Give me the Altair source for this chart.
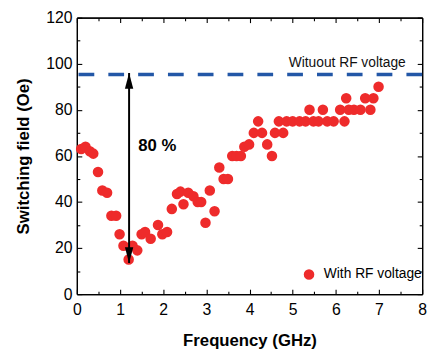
import altair as alt
import pandas as pd

# ---- data ----
freq = [0.1, 0.2, 0.3, 0.38, 0.49, 0.59, 0.7, 0.8, 0.91, 0.99,
        1.08, 1.2, 1.29, 1.4, 1.5, 1.58, 1.71, 1.88, 1.98, 2.09,
        2.2, 2.32, 2.4, 2.47, 2.58, 2.7, 2.8, 2.88, 2.98, 3.08,
        3.19, 3.3, 3.4, 3.5, 3.6, 3.7, 3.8, 3.88, 3.99, 4.1,
        4.2, 4.29, 4.41, 4.52, 4.59, 4.68, 4.78, 4.86, 5.0, 5.16,
        5.3, 5.39, 5.48, 5.6, 5.7, 5.8, 5.95, 6.1, 6.2, 6.24,
        6.3, 6.42, 6.57, 6.68, 6.8, 6.87, 6.99]
field = [63, 64, 62, 61, 53, 45, 44, 34, 34, 26,
         21, 15, 21, 19, 26, 27, 24, 30, 26, 27,
         37, 43.5, 44.5, 39, 44, 42.5, 40, 40, 31, 45,
         36, 55, 50, 50, 60, 60, 60, 64, 65, 70,
         75, 70, 65, 60, 70, 75, 70, 75, 75, 75,
         75, 80, 75, 75, 80, 75, 75, 80, 75, 85,
         80, 80, 80, 85, 80, 85, 90]
series_name = "With RF voltage"

x_major = [0, 1, 2, 3, 4, 5, 6, 7, 8]
x_minor = [0.5, 1.5, 2.5, 3.5, 4.5, 5.5, 6.5, 7.5]
y_major = [0, 20, 40, 60, 80, 100, 120]
y_minor = [10, 30, 50, 70, 90, 110]

ref_level = [95.3]
ref_label = ["Wituout RF voltage"]
ref_label_x = [7.62]
ref_label_y = [100.5]

arrow_x = [1.21]
arrow_low = [13.5]
arrow_high = [96.0]
arrow_label = ["80 %"]
arrow_label_x = [1.42]
arrow_label_y = [64.3]

# ---- tables ----
df = pd.DataFrame({"freq": freq, "field": field, "series": [series_name] * len(freq)})
ref_df = pd.DataFrame({"level": ref_level})
ref_txt = pd.DataFrame({"x": ref_label_x, "y": ref_label_y, "t": ref_label})
arr_df = pd.DataFrame({"x": arrow_x, "lo": arrow_low, "hi": arrow_high})
arr_txt = pd.DataFrame({"x": arrow_label_x, "y": arrow_label_y, "t": arrow_label})

FONT = "Liberation Sans"
xs = alt.Scale(domain=[0, 8], nice=False, zero=False)
ys = alt.Scale(domain=[0, 120], nice=False, zero=False)

MAJ = alt.ExprRef(expr="-5")
MIN = alt.ExprRef(expr="-3")


def ax(values, orient, size, labels=False, title=None, pad=0, tpad=0):
    kw = dict(values=values, orient=orient, tickSize=size, labels=labels,
              grid=False, domain=True, domainColor="black", domainWidth=1.2,
              tickColor="black", tickWidth=1.1)
    if labels:
        kw.update(labelFontSize=16, labelFont=FONT, labelColor="black",
                  labelPadding=pad, labelFlush=False)
    if title:
        kw.update(title=title, titleFontSize=17, titleFont=FONT,
                  titleFontWeight="bold", titleColor="black", titlePadding=tpad)
    else:
        kw.update(title=None)
    return alt.Axis(**kw)


points = alt.Chart(df).mark_circle(size=115, opacity=1).encode(
    x=alt.X("freq:Q", scale=xs,
            axis=ax(x_major, "bottom", MAJ, labels=True, title="Frequency (GHz)", pad=13, tpad=15)),
    y=alt.Y("field:Q", scale=ys,
            axis=ax(y_major, "left", MAJ, labels=True, title="Switching field (Oe)", pad=10, tpad=13)),
    color=alt.Color("series:N",
                    scale=alt.Scale(domain=[series_name], range=["#ee2b2b"]),
                    legend=alt.Legend(title=None, orient="none", legendX=229, legendY=254,
                                      labelFontSize=14, labelFont=FONT, labelColor="black",
                                      symbolSize=115, symbolType="circle", symbolStrokeWidth=0,
                                      labelOffset=8, padding=0)),
)


def axis_layer(xv, xo, xsz, yv, yo, ysz):
    return alt.Chart(df).mark_point(opacity=0).encode(
        x=alt.X("freq:Q", scale=xs, axis=ax(xv, xo, xsz)),
        y=alt.Y("field:Q", scale=ys, axis=ax(yv, yo, ysz)),
    )


minor_bl = axis_layer(x_minor, "bottom", MIN, y_minor, "left", MIN)
major_tr = axis_layer(x_major, "top", MAJ, y_major, "right", MAJ)
minor_tr = axis_layer(x_minor, "top", MIN, y_minor, "right", MIN)

ref_line = alt.Chart(ref_df).mark_rule(strokeDash=[16, 14.3], strokeWidth=3.6, color="#2357a7").encode(
    y=alt.Y("level:Q", scale=ys, axis=None))

ref_text = alt.Chart(ref_txt).mark_text(align="right", baseline="middle", fontSize=14,
                                        font=FONT, color="#111111").encode(
    x=alt.X("x:Q", scale=xs, axis=None), y=alt.Y("y:Q", scale=ys, axis=None), text="t:N")

arrow_line = alt.Chart(arr_df).mark_rule(strokeWidth=2, color="black").encode(
    x=alt.X("x:Q", scale=xs, axis=None),
    y=alt.Y("lo:Q", scale=ys, axis=None), y2="hi:Q")

head_up = alt.Chart(arr_df).mark_point(shape="M0,0L-0.85,3.2L0.85,3.2Z", size=100, filled=True,
                                        color="black", opacity=1, strokeWidth=0).encode(
    x=alt.X("x:Q", scale=xs, axis=None), y=alt.Y("hi:Q", scale=ys, axis=None))

head_down = alt.Chart(arr_df).mark_point(shape="M0,0L-0.85,-3.2L0.85,-3.2Z", size=100, filled=True,
                                          color="black", opacity=1, strokeWidth=0).encode(
    x=alt.X("x:Q", scale=xs, axis=None), y=alt.Y("lo:Q", scale=ys, axis=None))

arrow_text = alt.Chart(arr_txt).mark_text(align="left", baseline="middle", fontSize=17,
                                          fontWeight="bold", font=FONT, color="black").encode(
    x=alt.X("x:Q", scale=xs, axis=None), y=alt.Y("y:Q", scale=ys, axis=None), text="t:N")

chart = alt.layer(
    points, minor_bl, major_tr, minor_tr, ref_line, ref_text,
    arrow_line, head_up, head_down, arrow_text
).resolve_axis(x="independent", y="independent").properties(
    width=351, height=281,
    padding={"left": 70, "top": 7, "right": 10, "bottom": 58},
    autosize=alt.AutoSizeParams(type="none"),
).configure_view(stroke="black", strokeWidth=1.2).configure(background="white")

chart.save("out.html", embed_options={"renderer": "svg", "actions": False})
